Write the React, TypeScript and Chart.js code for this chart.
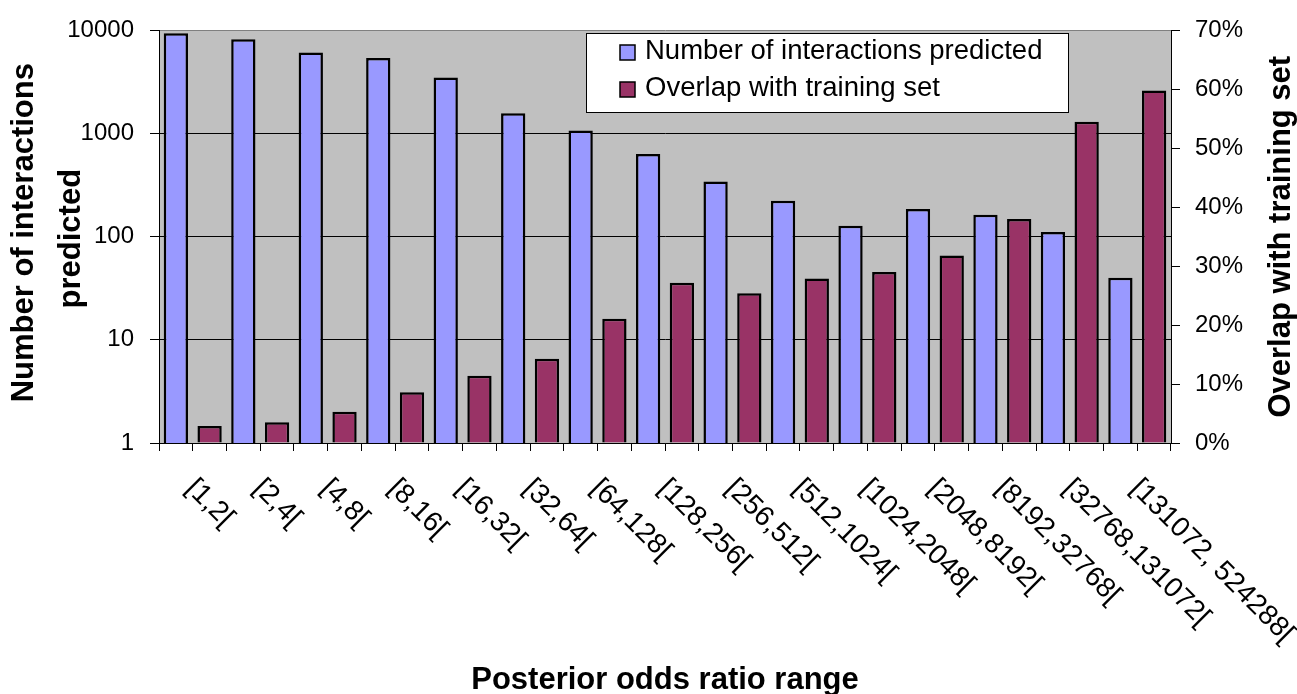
import React, { useEffect, useRef } from "react";
import { Chart, registerables } from "chart.js";

Chart.register(...registerables);

// ---- Data ----
const rangeLabels = [
  "[1,2[",
  "[2,4[",
  "[4,8[",
  "[8,16[",
  "[16,32[",
  "[32,64[",
  "[64,128[",
  "[128,256[",
  "[256,512[",
  "[512,1024[",
  "[1024,2048[",
  "[2048,8192[",
  "[8192,32768[",
  "[32768,131072[",
  "[131072, 524288[",
];
const interactionsPredicted = [9400, 8200, 6100, 5400, 3500, 1570, 1070, 635, 342, 223, 128, 186, 163, 111, 40];
const overlapWithTraining = [0.029, 0.035, 0.053, 0.086, 0.114, 0.143, 0.211, 0.272, 0.254, 0.279, 0.29, 0.318, 0.38, 0.545, 0.598];
const leftTicks = [1, 10, 100, 1000, 10000];
const rightTicks = [0, 0.1, 0.2, 0.3, 0.4, 0.5, 0.6, 0.7];
const seriesNames = ["Number of interactions predicted", "Overlap with training set"];
const xTitle = "Posterior odds ratio range";
const leftTitle = ["Number of interactions", "predicted"];
const rightTitle = "Overlap with training set";

const FONT = "'Liberation Sans', Arial, sans-serif";
const BLUE = "#9999FF";
const MAROON = "#993366";

const decor = {
  id: "decor",
  beforeDraw(chart: any) {
    const { ctx, chartArea: a } = chart;
    ctx.save();
    ctx.fillStyle = "#C0C0C0";
    ctx.fillRect(a.left, a.top, a.right - a.left, a.bottom - a.top);
    ctx.restore();
  },
  afterDraw(chart: any) {
    const { ctx, chartArea: a } = chart;
    const xs = chart.scales.x;
    ctx.save();
    ctx.fillStyle = "#000";

    // rotated category labels
    ctx.font = `28px ${FONT}`;
    ctx.textAlign = "left";
    ctx.textBaseline = "alphabetic";
    rangeLabels.forEach((lab, i) => {
      const px = xs.getPixelForValue(i * 2);
      ctx.save();
      ctx.translate(px + 9, a.bottom + 46.5);
      ctx.rotate(Math.PI / 4);
      ctx.fillText(lab, 0, 0);
      ctx.restore();
    });

    // x title
    ctx.font = `bold 31px ${FONT}`;
    ctx.textAlign = "center";
    ctx.textBaseline = "middle";
    ctx.fillText(xTitle, (a.left + a.right) / 2, 680);

    // left title (two lines)
    const midY = (a.top + a.bottom) / 2;
    ctx.save();
    ctx.translate(24, midY - 4);
    ctx.rotate(-Math.PI / 2);
    ctx.fillText(leftTitle[0], 0, 0);
    ctx.restore();
    ctx.save();
    ctx.translate(71, midY + 2);
    ctx.rotate(-Math.PI / 2);
    ctx.fillText(leftTitle[1], 0, 0);
    ctx.restore();

    // right title
    ctx.save();
    ctx.translate(1281, midY);
    ctx.rotate(-Math.PI / 2);
    ctx.fillText(rightTitle, 0, 0);
    ctx.restore();

    // legend
    const lx = 586, ly = 33, lw = 482, lh = 79;
    ctx.fillStyle = "#FFFFFF";
    ctx.fillRect(lx, ly, lw, lh);
    ctx.strokeStyle = "#000";
    ctx.lineWidth = 1;
    ctx.strokeRect(lx + 0.5, ly + 0.5, lw, lh);
    const rows = [51, 88];
    const colors = [BLUE, MAROON];
    ctx.font = `27.5px ${FONT}`;
    ctx.textAlign = "left";
    ctx.textBaseline = "middle";
    rows.forEach((ry, i) => {
      ctx.fillStyle = colors[i];
      ctx.fillRect(620, ry - 6, 15, 15);
      ctx.strokeStyle = "#000";
      ctx.lineWidth = 1.5;
      ctx.strokeRect(620, ry - 6, 15, 15);
      ctx.fillStyle = "#000";
      ctx.fillText(seriesNames[i], 645, ry);
    });
    ctx.restore();
  },
};

export default function App() {
  const ref = useRef<HTMLCanvasElement>(null);
  useEffect(() => {
    document.body.style.margin = "0";
    const canvas = ref.current!;
    const blueData = interactionsPredicted.flatMap((v) => [v, null]);
    const redData = overlapWithTraining.flatMap((v) => [null, v]);
    const slotLabels = rangeLabels.flatMap((l) => [l, ""]);
    const tickFont = { family: FONT, size: 24 };
    const chart = new Chart(canvas, {
      type: "bar",
      data: {
        labels: slotLabels,
        datasets: [
          {
            label: seriesNames[0],
            data: blueData,
            yAxisID: "yLeft",
            backgroundColor: BLUE,
            borderColor: "#000",
            borderWidth: 2.5,
            grouped: false,
            barPercentage: 0.72,
            categoryPercentage: 1,
          } as any,
          {
            label: seriesNames[1],
            data: redData,
            yAxisID: "yRight",
            backgroundColor: MAROON,
            borderColor: "#000",
            borderWidth: 2.5,
            grouped: false,
            barPercentage: 0.72,
            categoryPercentage: 1,
          } as any,
        ],
      },
      options: {
        animation: false,
        responsive: false,
        maintainAspectRatio: false,
        layout: { padding: { top: 26, left: 0, right: 0, bottom: 0 } },
        plugins: { legend: { display: false }, tooltip: { enabled: false } },
        scales: {
          x: {
            offset: true,
            grid: { offset: true, drawOnChartArea: false, drawTicks: true, tickLength: 8, color: "#000", lineWidth: 1 },
            border: { color: "#000", width: 1 },
            ticks: { display: false, autoSkip: false },
            afterFit: (s: any) => {
              s.height = 251;
            },
          },
          yLeft: {
            type: "logarithmic",
            position: "left",
            min: 1,
            max: 10000,
            afterBuildTicks: (s: any) => {
              s.ticks = leftTicks.map((v) => ({ value: v }));
            },
            ticks: {
              callback: (v: any) => String(v),
              font: tickFont,
              color: "#000",
              padding: 16,
              autoSkip: false,
            },
            grid: {
              color: (c: any) => (c.tick && c.tick.value === 10000 ? "#808080" : "#000"),
              tickColor: "#000",
              tickLength: 9,
              lineWidth: 1,
            },
            border: { color: "#000", width: 1 },
            afterFit: (s: any) => {
              s.width = 159;
            },
          },
          yRight: {
            type: "linear",
            position: "right",
            min: 0,
            max: 0.7,
            afterBuildTicks: (s: any) => {
              s.ticks = rightTicks.map((v) => ({ value: v }));
            },
            ticks: {
              callback: (v: any) => Math.round(Number(v) * 100) + "%",
              font: tickFont,
              color: "#000",
              padding: 15,
              autoSkip: false,
            },
            grid: { drawOnChartArea: false, color: "#000", tickLength: 9, lineWidth: 1 },
            border: { color: "#000", width: 1 },
            afterFit: (s: any) => {
              s.width = 126;
            },
          },
        },
      } as any,
      plugins: [decor],
    });
    return () => chart.destroy();
  }, []);
  return <canvas ref={ref} width={1297} height={694} style={{ display: "block" }} />;
}
